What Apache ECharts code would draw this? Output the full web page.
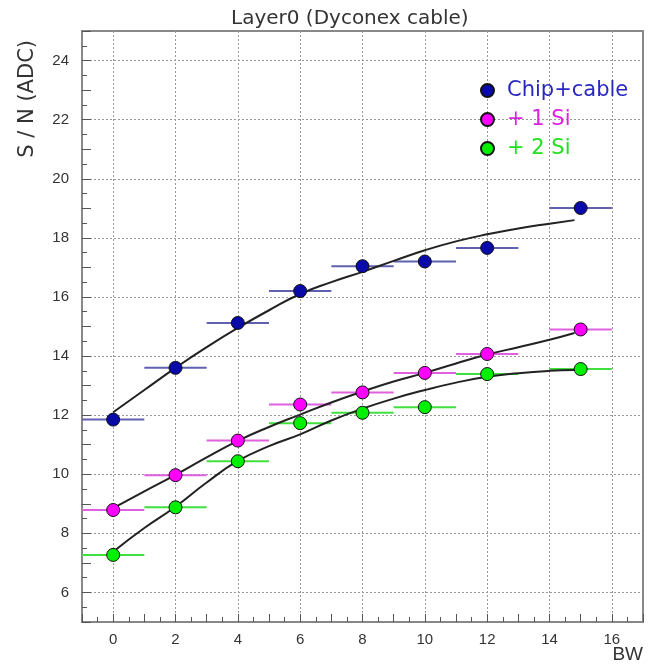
<!DOCTYPE html>
<html>
<head>
<meta charset="utf-8">
<script src="https://cdn.jsdelivr.net/npm/echarts@6/dist/echarts.min.js"></script>
<style>html,body{margin:0;padding:0;background:#fff}#c{width:656px;height:669px}</style>
</head>
<body>
<div id="c"></div>
<script>
// ---- data ----
const bw = [0, 2, 4, 6, 8, 10, 12, 15];
const bwErr = [1, 1, 1, 1, 1, 1, 1, 1];
const chipCable = [11.85, 13.6, 15.12, 16.2, 17.04, 17.2, 17.66, 19.01];
const oneSi = [8.79, 9.97, 11.14, 12.36, 12.77, 13.43, 14.07, 14.9];
const twoSi = [7.27, 8.88, 10.44, 11.73, 12.08, 12.27, 13.39, 13.56];

const fitX = [0, 1, 2, 3, 4, 5, 6, 7, 8, 9, 10, 11, 12, 13, 14, 14.8];
const fitChip = [12.1, 12.85, 13.6, 14.3, 14.95, 15.55, 16.1, 16.5, 16.85, 17.22, 17.58, 17.88, 18.12, 18.32, 18.48, 18.6];
const fitOneSi = [8.85, 9.42, 9.98, 10.57, 11.13, 11.6, 12.02, 12.43, 12.8, 13.14, 13.43, 13.75, 14.05, 14.3, 14.55, 14.78];
const fitTwoSi = [7.38, 8.18, 8.9, 9.72, 10.45, 10.95, 11.35, 11.82, 12.22, 12.56, 12.85, 13.1, 13.3, 13.42, 13.5, 13.53];

const seriesNames = ['Chip+cable', '+ 1 Si', '+ 2 Si'];
const xTicks = [0, 2, 4, 6, 8, 10, 12, 14, 16];
const yTicks = [6, 8, 10, 12, 14, 16, 18, 20, 22, 24];

const fillColors = ['#0a0aa8', '#ff00ff', '#00f000'];
const barColors = ['#6060b0', '#e060e0', '#40e040'];
const textColors = ['#2828c0', '#e020e0', '#20e020'];

const sets = [chipCable, oneSi, twoSi];
const fits = [fitChip, fitOneSi, fitTwoSi];

const series = [];
sets.forEach((vals, k) => {
  series.push({
    type: 'custom',
    name: seriesNames[k] + ' err',
    z: 3,
    silent: true,
    data: bw.map((x, i) => [x, vals[i], bwErr[i]]),
    renderItem: function (params, api) {
      const x = api.value(0), y = api.value(1), e = api.value(2);
      const p1 = api.coord([x - e, y]);
      const p2 = api.coord([x + e, y]);
      return { type: 'line', shape: { x1: p1[0], y1: p1[1], x2: p2[0], y2: p2[1] },
               style: { stroke: barColors[k], lineWidth: 2 } };
    }
  });
});
fits.forEach((vals, k) => {
  series.push({
    type: 'line',
    name: seriesNames[k] + ' fit',
    z: 4,
    smooth: true,
    showSymbol: false,
    silent: true,
    lineStyle: { color: '#222', width: 2 },
    data: fitX.map((x, i) => [x, vals[i]])
  });
});
sets.forEach((vals, k) => {
  series.push({
    type: 'scatter',
    name: seriesNames[k],
    z: 5,
    symbol: 'circle',
    symbolSize: 13,
    itemStyle: { color: fillColors[k], borderColor: '#111', borderWidth: 1, opacity: 1 },
    data: bw.map((x, i) => [x, vals[i]])
  });
});

const chart = echarts.init(document.getElementById('c'), null, { renderer: 'canvas' });
const axisCol = '#888';
const legendFont = { fontFamily: 'DejaVu Sans', fontSize: 21, padding: [0, 0, 0, 8], overflow: 'none' };
chart.setOption({
  animation: false,
  backgroundColor: '#fff',
  title: {
    text: 'Layer0 (Dyconex cable)',
    left: 226,
    top: 4,
    textStyle: { fontFamily: 'DejaVu Sans', fontSize: 20, fontWeight: 'normal', color: '#333' }
  },
  legend: {
    orient: 'vertical',
    left: 475,
    top: 75,
    itemWidth: 13,
    itemHeight: 13,
    itemGap: 8,
    textStyle: legendFont,
    data: seriesNames.map((n, k) => ({ name: n, textStyle: Object.assign({}, legendFont, { color: textColors[k] }) }))
  },
  grid: { left: 82, right: 13, top: 31, bottom: 47, show: true, borderColor: axisCol, borderWidth: 2, containLabel: false },
  xAxis: {
    type: 'value',
    min: -1, max: 17, interval: 1,
    axisLine: { show: true, onZero: false, lineStyle: { color: axisCol, width: 2 } },
    axisTick: { show: true, inside: true, length: 8, lineStyle: { color: '#555' } },
    minorTick: { show: true, splitNumber: 2, length: 5, lineStyle: { color: '#555' } },
    axisLabel: {
      margin: 10, fontFamily: 'Liberation Sans', fontSize: 15, color: '#333',
      formatter: v => (xTicks.indexOf(v) >= 0 ? String(v) : '')
    },
    splitLine: { show: true, lineStyle: { type: [2, 2], width: 1, color: ['rgba(0,0,0,0)', '#999'] } }
  },
  yAxis: {
    type: 'value',
    min: 5, max: 25, interval: 1,
    axisLine: { show: true, onZero: false, lineStyle: { color: axisCol, width: 2 } },
    axisTick: { show: true, inside: true, length: 9, lineStyle: { color: '#555' } },
    minorTick: { show: true, splitNumber: 2, length: 5, lineStyle: { color: '#555' } },
    axisLabel: {
      margin: 13, fontFamily: 'Liberation Sans', fontSize: 15, color: '#333',
      formatter: v => (yTicks.indexOf(v) >= 0 ? String(v) : '')
    },
    splitLine: { show: true, lineStyle: { type: [2, 2], width: 1, color: ['rgba(0,0,0,0)', '#999'] } }
  },
  graphic: [
    { type: 'text', left: 17, top: 40, rotation: Math.PI / 2,
      style: { text: 'S / N (ADC)', fontFamily: 'DejaVu Sans', fontSize: 21, fill: '#333' } },
    { type: 'text', right: 13, top: 645,
      style: { text: 'BW', fontFamily: 'Liberation Sans', fontSize: 19, fill: '#333' } }
  ],
  series: series
});
</script>
</body>
</html>
